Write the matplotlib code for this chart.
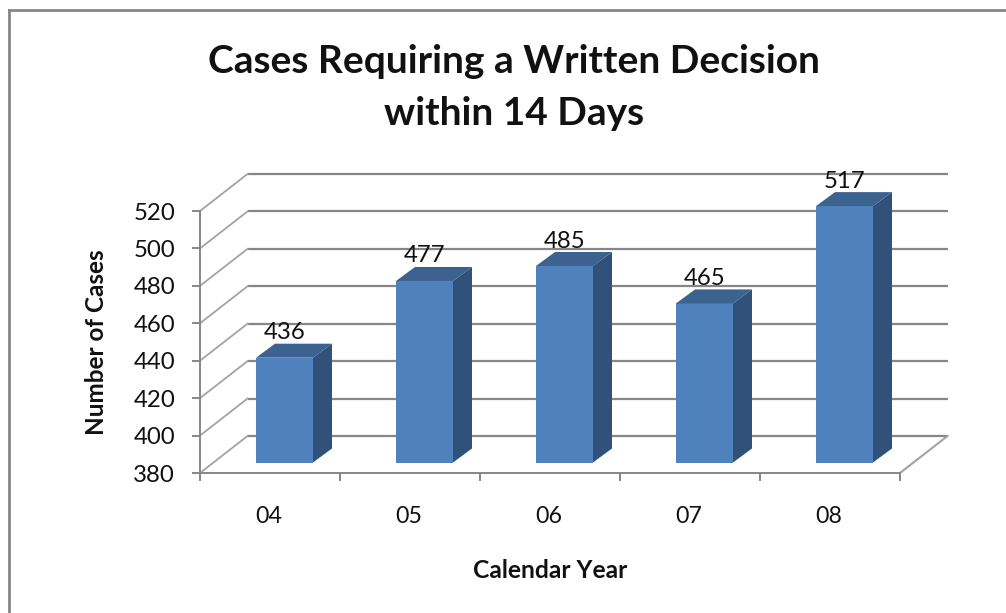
import numpy as np
import matplotlib
matplotlib.use('Agg')
import matplotlib.pyplot as plt
from matplotlib.patches import Polygon
from matplotlib.lines import Line2D

# Values
years = ['04', '05', '06', '07', '08']
cases = [436, 477, 485, 465, 517]
y_ticks = [380, 400, 420, 440, 460, 480, 500, 520]

title = 'Cases Requiring a Written Decision\nwithin 14 Days'
x_label = 'Calendar Year'
y_label = 'Number of Cases'

# Colours
face_col = '#4f81bd'
top_col = '#3c6290'
side_col = '#30527a'
grid_col = '#868686'
diag_col = '#a3a3a3'

plt.rcParams['font.family'] = ['Lato', 'DejaVu Sans']

W, H = 1006, 613
fig = plt.figure(figsize=(W / 100, H / 100), dpi=100)

# Front plane of the fake 3D box, in pixels: x 200-900, y 211-473
ax = fig.add_axes([200 / W, 1 - 473 / H, 700 / W, 262 / H])
ax.set_xlim(0, 5)
ax.set_ylim(380, 520)
ax.patch.set_alpha(0)

# Offsets in data units
px_x = 5 / 700
px_y = 140 / 262
wall_dx, wall_dy = 47.5 * px_x, 37 * px_y
bar_dx, bar_dy = 14.5 * px_x, 10.5 * px_y
depth_dx, depth_dy = 19 * px_x, 14 * px_y
bar_w = 57 * px_x

# Back wall gridlines and the diagonals on the left side
for t in y_ticks:
    ax.plot([wall_dx, 5 + wall_dx], [t + wall_dy] * 2, color=grid_col, lw=1.6,
            clip_on=False, zorder=1, solid_capstyle='butt')
    ax.plot([0, wall_dx], [t, t + wall_dy], color=diag_col, lw=1.3, clip_on=False, zorder=1)

# Floor edge on the right
ax.plot([5, 5 + wall_dx], [380, 380 + wall_dy], color=diag_col, lw=1.5, clip_on=False, zorder=1)

# Bars: front face plus top and side polygons
x = np.arange(len(years)) + 0.5
base = 380 + bar_dy
for xi, v in zip(x, cases):
    left = xi + bar_dx - bar_w / 2
    right = left + bar_w
    top = v + bar_dy
    ax.bar(left, top - base, width=bar_w, bottom=base, align='edge', color=face_col,
           edgecolor='none', clip_on=False, zorder=3)
    ax.add_patch(Polygon([(left, top), (left + depth_dx, top + depth_dy),
                          (right + depth_dx, top + depth_dy), (right, top)],
                         closed=True, facecolor=top_col, edgecolor='none', clip_on=False, zorder=3))
    ax.add_patch(Polygon([(right, base), (right + depth_dx, base + depth_dy),
                          (right + depth_dx, top + depth_dy), (right, top)],
                         closed=True, facecolor=side_col, edgecolor='none', clip_on=False, zorder=3))
    ax.annotate(str(v), (xi + bar_dx, top + depth_dy), xytext=(0, 11), textcoords='offset pixels',
                ha='center', va='center', fontsize=17.3, color='#111111', zorder=4, annotation_clip=False)

# Axes and ticks
for s in ['top', 'right']:
    ax.spines[s].set_visible(False)
for s in ['left', 'bottom']:
    ax.spines[s].set_color(grid_col)
    ax.spines[s].set_linewidth(1.4)
ax.set_yticks(y_ticks)
ax.set_xticks(np.arange(6))
ax.set_xticklabels([])
ax.tick_params(axis='y', length=6, width=1.4, color=grid_col, labelsize=17.3, pad=12, labelcolor='#111111')
ax.tick_params(axis='x', length=6, width=1.4, color=grid_col)

# Category labels sit between the ticks
for xi, lab in zip(x, years):
    ax.annotate(lab, (xi, 380), xytext=(-1, -43), textcoords='offset pixels', ha='center',
                va='center', fontsize=16.7, color='#111111', annotation_clip=False)

fig.text(550 / W, 1 - 570 / H, x_label, ha='center', va='center', fontsize=17.7,
         fontweight='bold', color='#111111')
fig.text(97 / W, 1 - 342 / H, y_label, rotation=90, ha='center', va='center', fontsize=17.5,
         fontweight='bold', color='#111111')
fig.text(514 / W, 1 - 87.5 / H, title, ha='center', va='center', fontsize=28, fontweight='bold',
         color='#111111', linespacing=1.57)

# Outer frame of the chart, cut off at the right and bottom of the picture
fig.add_artist(Line2D([9 / W, 9 / W], [0, 1 - 10 / H], color=grid_col, lw=2))
fig.add_artist(Line2D([9 / W, 1], [1 - 10 / H, 1 - 10 / H], color=grid_col, lw=2))

fig.savefig('out.png', dpi=100)
